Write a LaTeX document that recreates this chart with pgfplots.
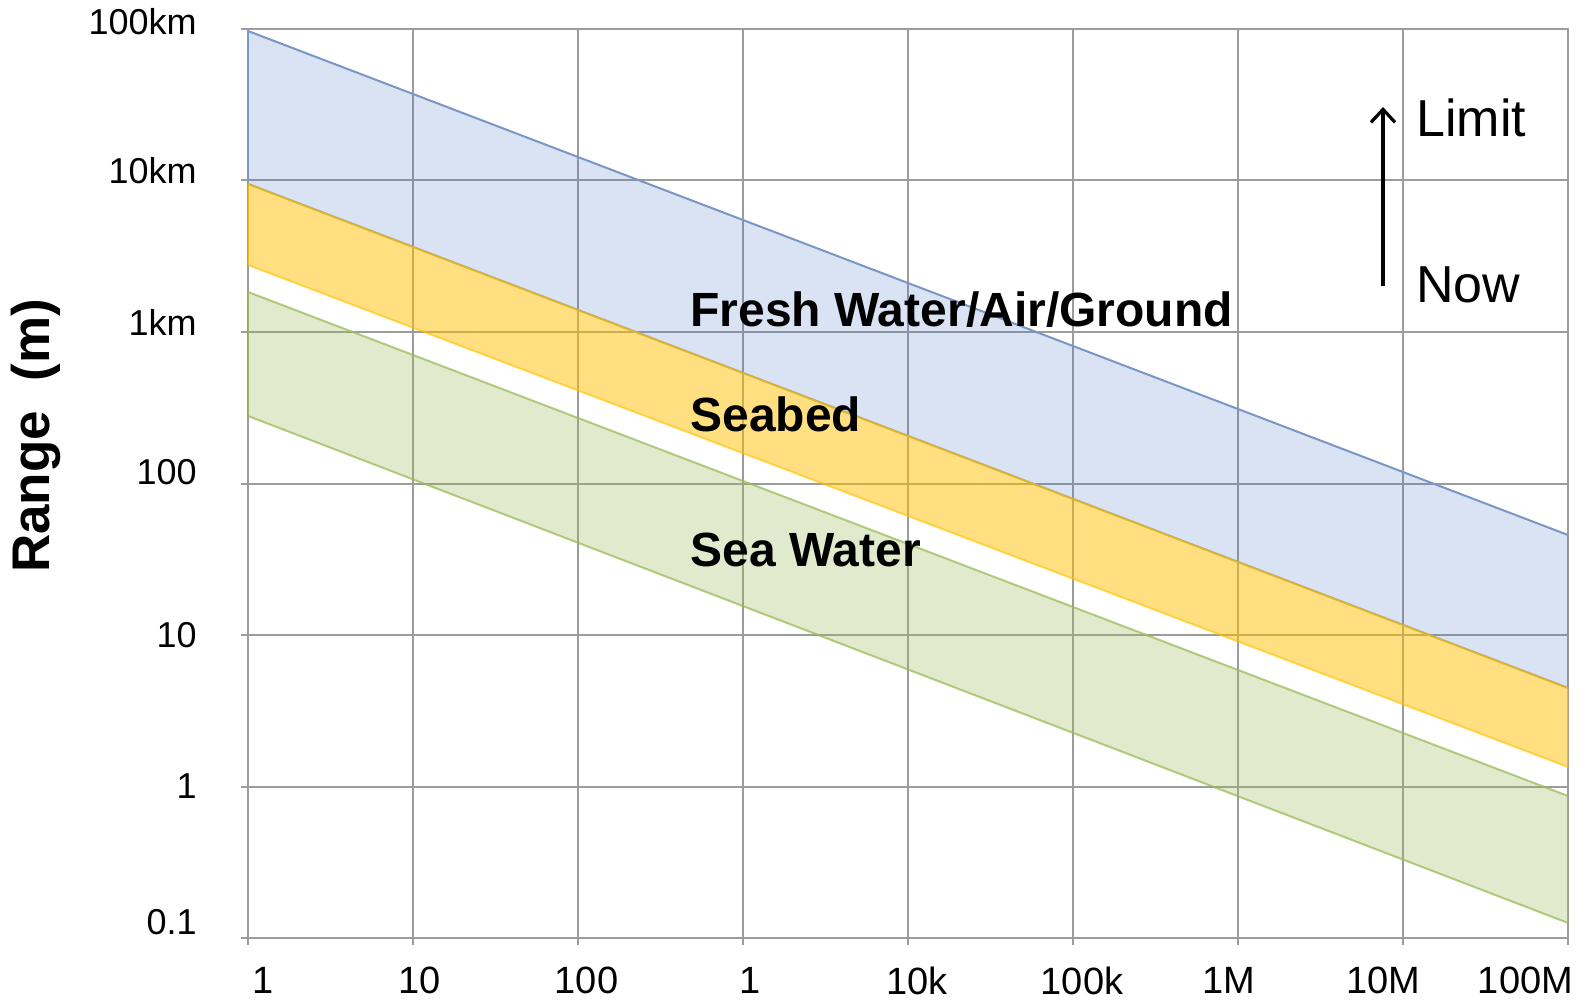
\documentclass[border=0pt]{standalone}
\usepackage{pgfplots}
\pgfplotsset{compat=1.18}
\usepackage{fontspec}
\setmainfont{Liberation Sans}
\usetikzlibrary{arrows.meta}
\definecolor{gridgray}{HTML}{9C9C9C}
\definecolor{bandblue}{HTML}{4472C4}
\definecolor{edgeblue}{HTML}{7A96C4}
\definecolor{bandorange}{HTML}{FFC000}
\definecolor{edgeorange}{HTML}{FFC000}
\definecolor{bandgreen}{HTML}{9BBB59}
\definecolor{edgegreen}{HTML}{9BBB59}
\newcommand\ry[2]{\raisebox{#1}[\height][\depth]{#2}}
\newcommand\sx[2]{\makebox[0pt]{\hspace*{#1}#2}}
\begin{document}
\begin{tikzpicture}
\begin{axis}[
  at={(0,0)}, anchor=south west,
  scale only axis, width=660pt, height=454.5pt,
  xmode=log, ymode=log,
  xmin=1, xmax=1e8, ymin=0.1, ymax=1e5,
  xtick={1,10,100,1000,1e4,1e5,1e6,1e7,1e8},
  xticklabels={\sx{15.5pt}{1},\sx{7pt}{10},\sx{8.5pt}{100},\sx{7pt}{1},\sx{9pt}{10k},\sx{9pt}{100k},\sx{-9.5pt}{1M},\sx{-19.5pt}{10M},\sx{-42.5pt}{100M}},
  ytick={0.1,1,10,100,1000,1e4,1e5},
  yticklabels={\ry{8pt}{0.1},1,10,\ry{5.5pt}{100},\ry{5pt}{1km},\ry{5pt}{10km},\ry{3.5pt}{100km}},
  minor tick style={draw=none}, minor tick length=0pt,
  grid=major, major grid style={gridgray, line width=1pt},
  axis line style={gridgray, line width=1pt},
  tick style={gridgray, line width=1pt},
  tick align=outside, major tick length=3.5pt,
  xtick pos=bottom, ytick pos=left,
  xticklabel style={font=\fontsize{19pt}{19pt}\selectfont, anchor=north, inner sep=0pt, yshift=-11pt},
  yticklabel style={font=\fontsize{18pt}{18pt}\selectfont, anchor=east, inner sep=0pt, xshift=-22pt},
]
\addplot[fill=bandblue, fill opacity=0.2, draw=edgeblue, line width=1pt]
  coordinates {(1,97000) (1e8,45.7) (1e8,4.47) (1,9490)} -- cycle;
\addplot[fill=bandorange, fill opacity=0.5, draw=edgeorange, draw opacity=0.6, line width=1pt]
  coordinates {(1,9490) (1e8,4.47) (1e8,1.345) (1,2770)} -- cycle;
\addplot[fill=bandgreen, fill opacity=0.3, draw=edgegreen, draw opacity=0.75, line width=1pt]
  coordinates {(1,1837) (1e8,0.866) (1e8,0.1257) (1,279)} -- cycle;
\end{axis}
\node[anchor=base west, inner sep=0pt, font=\bfseries\fontsize{24pt}{24pt}\selectfont] at (221pt,305.5pt) {Fresh Water/Air/Ground};
\node[anchor=base west, inner sep=0pt, font=\bfseries\fontsize{24pt}{24pt}\selectfont] at (221pt,253pt) {Seabed};
\node[anchor=base west, inner sep=0pt, font=\bfseries\fontsize{24pt}{24pt}\selectfont] at (221pt,185.5pt) {Sea Water};
\node[anchor=base west, inner sep=0pt, font=\fontsize{26pt}{26pt}\selectfont] at (584pt,400.5pt) {Limit};
\node[anchor=base west, inner sep=0pt, font=\fontsize{26pt}{26pt}\selectfont] at (584pt,317.5pt) {Now};
\draw[line width=1.6pt, -{Straight Barb[length=6.5pt,width=12pt,line width=1.6pt]}] (567.5pt,326pt) -- (567.5pt,415.5pt);
\node[rotate=90, anchor=center, inner sep=0pt, font=\bfseries\fontsize{26.5pt}{26.5pt}\selectfont] at (-106pt,251pt) {Range\ \ (m)};
\pgfresetboundingbox
\useasboundingbox (-124pt,-31.5pt) rectangle (667.5pt,469pt);
\end{tikzpicture}
\end{document}
